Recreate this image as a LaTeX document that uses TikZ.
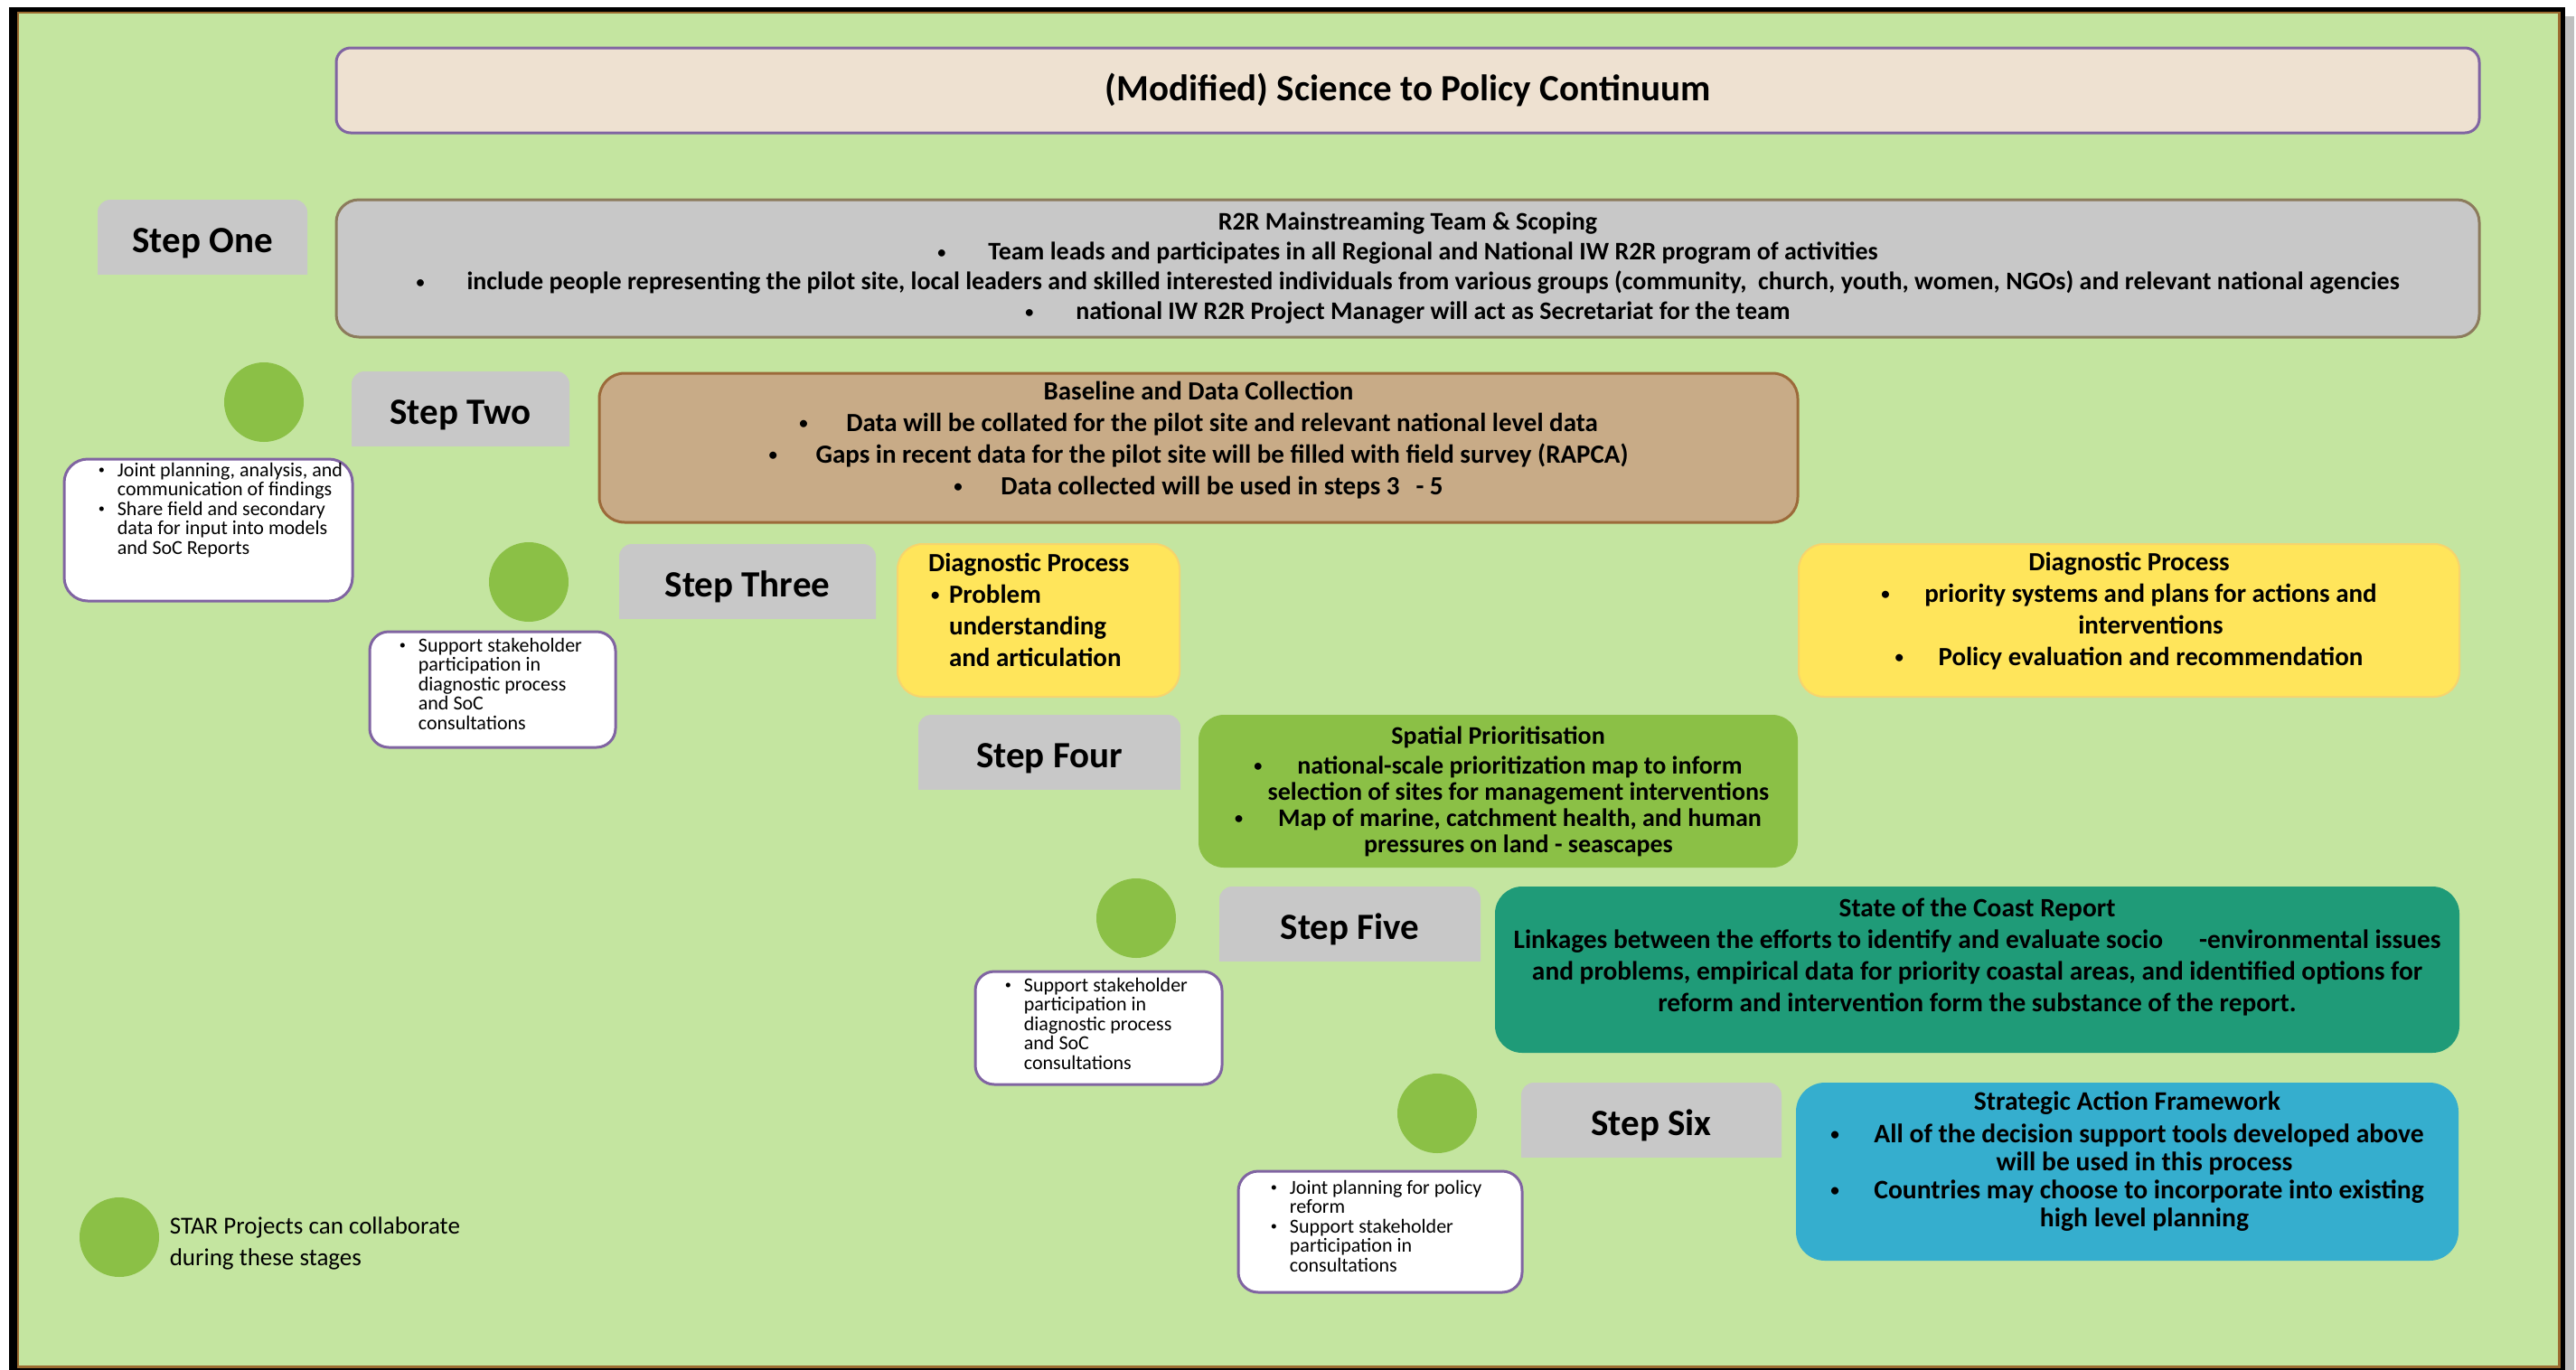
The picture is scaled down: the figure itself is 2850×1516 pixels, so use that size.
\documentclass[tikz,border=0pt]{standalone}
\usepackage{fontspec}
\usepackage{graphicx}
\setmainfont{Carlito}

\definecolor{bggreen}{HTML}{C4E5A0}
\definecolor{framebrown}{HTML}{9C6B30}
\definecolor{titlefill}{HTML}{EEE1D1}
\definecolor{lilac}{HTML}{8064A2}
\definecolor{stepgray}{HTML}{C8C8C8}
\definecolor{scopeedge}{HTML}{8C7B5C}
\definecolor{basefill}{HTML}{C8AB87}
\definecolor{baseedge}{HTML}{9C6A3A}
\definecolor{diagfill}{HTML}{FFE55B}
\definecolor{diagedge}{HTML}{F6D46E}
\definecolor{leafgreen}{HTML}{8BC046}
\definecolor{coastteal}{HTML}{1F9B78}
\definecolor{safblue}{HTML}{35AECE}

\newcommand\fTitle{\fontsize{20.5}{24}\selectfont\bfseries}
\newcommand\fStep{\fontsize{20.5}{24}\selectfont\bfseries}
\newcommand\fScope{\fontsize{14}{16.5}\selectfont\bfseries}
\newcommand\fBase{\fontsize{14.5}{17.5}\selectfont\bfseries}
\newcommand\fDiag{\fontsize{14.5}{17.5}\selectfont\bfseries}
\newcommand\fSpatial{\fontsize{14}{14.5}\selectfont\bfseries}
\newcommand\fCoast{\fontsize{14.7}{17.5}\selectfont\bfseries}
\newcommand\fSaf{\fontsize{14.8}{15.5}\selectfont\bfseries}
\newcommand\fNote{\fontsize{11}{10.75}\selectfont}
\newcommand\fLegend{\fontsize{13.5}{17.5}\selectfont}
\newcommand\bul[1][24pt]{\makebox[#1][l]{\raisebox{0.1em}{\scalebox{0.65}{\textbullet}}}}

\tikzset{
  panel/.style={rounded corners=#1, inner sep=0pt, align=center},
  steptab/.style={minimum height=41pt, inner sep=0pt, font=\fStep, text height=21pt, text depth=4pt,
    path picture={\fill[stepgray, rounded corners=7pt] (path picture bounding box.north west) rectangle ([yshift=-10pt]path picture bounding box.south east);}},
  collab/.style={circle, fill=leafgreen, minimum size=44pt, inner sep=0pt},
  note/.style={rounded corners=#1, fill=white, draw=lilac, line width=1.5pt},
  notetext/.style={align=flush left, inner sep=0pt, font=\fNote}
}

\begin{document}
\begin{tikzpicture}[x=0.5pt, y=-0.5pt]
    \useasboundingbox (0,0) rectangle (2850,1516);
    % frame
    \fill[black!25] (2838,18) rectangle (2848,1516);
    \fill[black] (10,8) rectangle (2838,1516);
    \fill[framebrown] (19,13) rectangle (2833,1514);
    \fill[bggreen] (21,15) rectangle (2830,1511);

    % title and step one
    \node[panel=8pt, fill=titlefill, draw=lilac, line width=1.5pt, minimum width=1185.5pt, minimum height=47pt, font=\fTitle] (title) at (1557.5,100) {(Modified) Science to Policy Continuum};
    \node[steptab, minimum width=116pt] (s1) at (224,262) {Step One};
    \node[panel=12.5pt, fill=stepgray, draw=scopeedge, line width=1.5pt, minimum width=1185.5pt, minimum height=76pt, font=\fScope] (scoping) at (1557.5,297) {R2R Mainstreaming Team \& Scoping\\
        \bul[28pt]Team leads and participates in all Regional and National IW R2R program of activities\\
        \bul[28pt]include people representing the pilot site, local leaders and skilled interested individuals from various groups (community,\ \ church, youth, women, NGOs) and relevant national agencies\\
        \bul[28pt]national IW R2R Project Manager will act as Secretariat for the team};

    % step two
    \node[collab] (c2) at (292,445) {};
    \node[steptab, minimum width=120.5pt] (s2) at (509.5,452) {Step Two};
    \node[panel=14pt, fill=basefill, draw=baseedge, line width=1.5pt, minimum width=663pt, minimum height=82.5pt, text depth=10.5pt, font=\fBase] (baseline) at (1326,495.5) {Baseline and Data Collection\\
        \bul[26pt]Data will be collated for the pilot site and relevant national level data\\
        \bul[26pt]Gaps in recent data for the pilot site will be filled with field survey (RAPCA)\\
        \bul[26pt]Data collected will be used in steps 3\hspace{9pt}- 5};
    \node[note=13pt, minimum width=159.5pt, minimum height=78.5pt] (n2) at (230.5,586.5) {};
    \node[notetext, anchor=north west] (n2t) at ([shift={(39,5)}]n2.north west) {\bul[10.5pt]Joint planning, analysis, and\\ \hspace*{10.5pt}communication of findings\\ \bul[10.5pt]Share field and secondary\\ \hspace*{10.5pt}data for input into models\\ \hspace*{10.5pt}and SoC Reports};

    % step three
    \node[collab] (c3) at (585,644) {};
    \node[steptab, minimum width=142pt] (s3) at (827,643) {Step Three};
    \node[note=10.5pt, minimum width=136pt, minimum height=64pt] (n3) at (545,763) {};
    \node[notetext, anchor=north west] (n3t) at ([shift={(34,8)}]n3.north west) {\bul[10.5pt]Support stakeholder\\ \hspace*{10.5pt}participation in\\ \hspace*{10.5pt}diagnostic process\\ \hspace*{10.5pt}and SoC\\ \hspace*{10.5pt}consultations};
    \node[panel=14pt, fill=diagfill, draw=diagedge, line width=1pt, minimum width=156pt, minimum height=84.5pt, text width=122pt, align=flush left, text depth=64.5pt, font=\fDiag] (diagA) at (1149,686.5) {Diagnostic Process\\ \hspace*{1.5pt}\bul[10pt]Problem\\ \hspace*{11.5pt}understanding\\ \hspace*{11.5pt}and articulation};
    \node[panel=14pt, fill=diagfill, draw=diagedge, line width=1pt, minimum width=365.5pt, minimum height=84.5pt, text depth=12.5pt, font=\fDiag] (diagB) at (2355.5,686.5) {Diagnostic Process\\
        \bul priority systems and plans for actions and\\
        \hspace*{24pt}interventions\\
        \bul Policy evaluation and recommendation};

    % step four
    \node[steptab, minimum width=145pt] (s4) at (1161,832) {Step Four};
    \node[panel=14pt, fill=leafgreen, minimum width=331.5pt, minimum height=84.5pt, font=\fSpatial] (spatial) at (1657.5,875.5) {Spatial Prioritisation\\[2pt]
        \bul national-scale prioritization map to inform\\
        \hspace*{22.5pt}selection of sites for management interventions\\
        \bul Map of marine, catchment health, and human\\
        \hspace*{22.5pt}pressures on land - seascapes};

    % step five
    \node[collab] (c5) at (1257,1016) {};
    \node[steptab, minimum width=144.5pt] (s5) at (1493.5,1022) {Step Five};
    \node[panel=15pt, fill=coastteal, minimum width=533.5pt, minimum height=92pt, text depth=16.5pt, font=\fCoast] (coast) at (2187.5,1073) {State of the Coast Report\\
        Linkages between the efforts to identify and evaluate socio\hspace{20pt}-environmental issues\\
        and problems, empirical data for priority coastal areas, and identified options for\\
        reform and intervention form the substance of the report.};
    \node[note=10.5pt, minimum width=136.5pt, minimum height=62.5pt] (n5) at (1215.5,1137.5) {};
    \node[notetext, anchor=north west] (n5t) at ([shift={(34,8)}]n5.north west) {\bul[10.5pt]Support stakeholder\\ \hspace*{10.5pt}participation in\\ \hspace*{10.5pt}diagnostic process\\ \hspace*{10.5pt}and SoC\\ \hspace*{10.5pt}consultations};

    % step six
    \node[collab] (c6) at (1590,1232) {};
    \node[steptab, minimum width=144pt] (s6) at (1827,1239) {Step Six};
    \node[panel=16pt, fill=safblue, minimum width=366.5pt, minimum height=98.5pt, text depth=13.5pt, font=\fSaf] (saf) at (2353.5,1296.5) {Strategic Action Framework\\[2.5pt]
        \bul All of the decision support tools developed above\\
        \hspace*{19pt}will be used in this process\\
        \bul Countries may choose to incorporate into existing\\
        \hspace*{19pt}high level planning};
    \node[note=11pt, minimum width=157pt, minimum height=67pt] (n6) at (1527,1363) {};
    \node[notetext, anchor=north west] (n6t) at ([shift={(37,11)}]n6.north west) {\bul[10.5pt]Joint planning for policy\\ \hspace*{10.5pt}reform\\ \bul[10.5pt]Support stakeholder\\ \hspace*{10.5pt}participation in\\ \hspace*{10.5pt}consultations};

    % legend
    \node[collab] (leg) at (132,1369) {};
    \node[anchor=west, align=left, inner sep=0pt, font=\fLegend] (legtxt) at ([shift={(11,7)}]leg.east) {STAR Projects can collaborate\\ during these stages};
\end{tikzpicture}
\end{document}
